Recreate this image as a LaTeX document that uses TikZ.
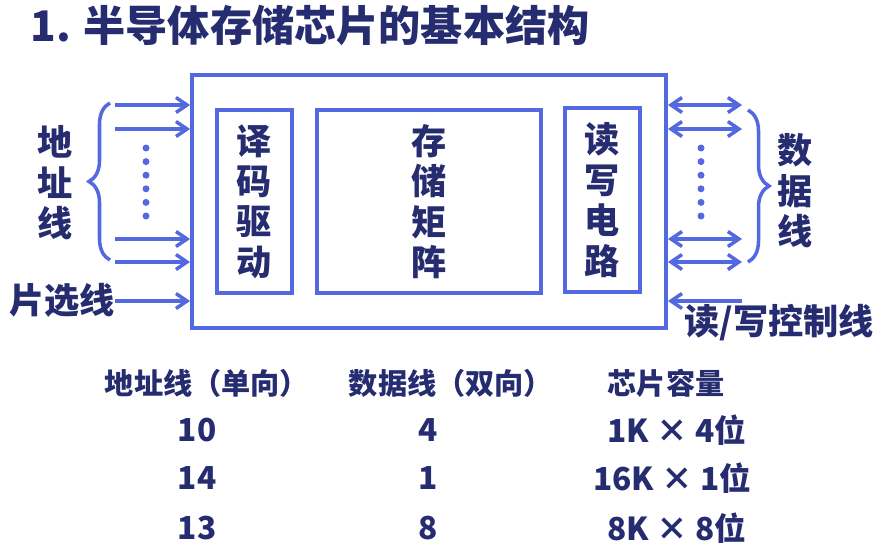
\documentclass[tikz,border=0pt]{standalone}
\usepackage{fontspec}
\setmainfont{Noto Sans CJK SC}
\usetikzlibrary{arrows.meta,positioning,decorations.pathreplacing}
\definecolor{chipblue}{HTML}{5468E0}
\definecolor{chipnavy}{HTML}{262C70}

\begin{document}
\begin{tikzpicture}[
    blk/.style={rectangle, draw=chipblue, line width=2.2pt, inner sep=0pt,
                align=center, text=chipnavy,
                font=\fontsize{20}{23}\selectfont\bfseries},
    lbl/.style={text=chipnavy, font=\fontsize{20}{23}\selectfont\bfseries,
                align=center, inner sep=0pt},
    thead/.style={text=chipnavy, font=\fontsize{16.6}{19}\selectfont\bfseries, inner sep=0pt},
    tcell/.style={text=chipnavy, font=\fontsize{18}{21}\selectfont\bfseries, inner sep=0pt},
    arr/.style={chipblue, line width=2pt, -{Straight Barb[length=2.2mm,width=3mm]}},
    dbl/.style={chipblue, line width=2pt,
                {Straight Barb[length=2.2mm,width=3mm]}-{Straight Barb[length=2.2mm,width=3mm]}},
    brc/.style={chipblue, line width=2pt, decorate, decoration={brace, amplitude=0.42cm}},
    dotcol/.style={chipblue, line width=0.14cm, line cap=round, dash pattern=on 0pt off 0.272cm}
  ]

  \useasboundingbox (0,0) rectangle (17.62,-11.14);

  % ---- Title ----
  \node[anchor=west, text=chipnavy, font=\fontsize{24}{28}\selectfont\bfseries, inner sep=0pt]
    (title) at (0.6,-0.5) {1.\hspace{0.3em}半导体存储芯片的基本结构};

  % ============ Chip ============
  \node[blk, minimum width=9.48cm, minimum height=5.06cm] (chip) at (8.58,-4.03) {};

  \node[blk, minimum width=1.5cm, minimum height=3.66cm] (dec) at (5.09,-4.03)
    {译\\码\\驱\\动};
  \node[blk, minimum width=4.48cm, minimum height=3.66cm] (mat) at (8.58,-4.03)
    {存\\储\\矩\\阵};
  \node[blk, minimum width=1.5cm, minimum height=3.68cm] (rw) at (12.05,-4.0)
    {读\\写\\电\\路};

  % ============ LEFT: address lines + chip select ============
  \coordinate (a1) at (2.3,-2.1);
  \coordinate (a2) at (2.3,-2.58);
  \coordinate (a3) at (2.3,-4.78);
  \coordinate (a4) at (2.3,-5.24);
  \coordinate (cs) at (2.3,-6.02);

  \draw[arr] (a1) -- (a1 -| chip.west);
  \draw[arr] (a2) -- (a2 -| chip.west);
  \draw[arr] (a3) -- (a3 -| chip.west);
  \draw[arr] (a4) -- (a4 -| chip.west);
  \draw[arr] (cs) -- (cs -| chip.west);

  \draw[dotcol] (2.92,-2.96) -- (2.92,-4.33);
  \draw[brc] (2.2,-5.2) -- (2.2,-2.06);

  \node[lbl] (addr) at (1.1,-3.66) {地\\址\\线};
  \node[lbl] (csl) at (1.24,-6.0) {片选线};

  % ============ RIGHT: data lines + read/write control ============
  \coordinate (d1) at (14.84,-2.1);
  \coordinate (d2) at (14.84,-2.58);
  \coordinate (d3) at (14.84,-4.78);
  \coordinate (d4) at (14.84,-5.24);
  \coordinate (rwc) at (14.84,-6.02);

  \draw[dbl] (d1 -| chip.east) -- (d1);
  \draw[dbl] (d2 -| chip.east) -- (d2);
  \draw[dbl] (d3 -| chip.east) -- (d3);
  \draw[dbl] (d4 -| chip.east) -- (d4);
  \draw[arr] (rwc) -- (rwc -| chip.east);

  \draw[dotcol] (14.02,-2.96) -- (14.02,-4.33);
  \draw[brc] (14.96,-2.2) -- (14.96,-5.24);

  \node[lbl] (data) at (15.9,-3.82) {数\\据\\线};
  \node[lbl] (rwl) at (15.58,-6.46) {读/写控制线};

  % ============ Table ============
  \node[thead] (h1) at (4.14,-7.66) {地址线（单向）};
  \node[thead] (h2) at (9.02,-7.66) {数据线（双向）};
  \node[thead] (h3) at (13.32,-7.66) {芯片容量};

  \node[tcell] (r1a) at (3.94,-8.6) {10};
  \node[tcell] (r1b) at (8.56,-8.6) {4};
  \node[tcell] (r1c) at (13.54,-8.6) {1K × 4位};

  \node[tcell] (r2a) at (3.94,-9.56) {14};
  \node[tcell] (r2b) at (8.56,-9.56) {1};
  \node[tcell] (r2c) at (13.44,-9.56) {16K × 1位};

  \node[tcell] (r3a) at (3.94,-10.56) {13};
  \node[tcell] (r3b) at (8.56,-10.56) {8};
  \node[tcell] (r3c) at (13.54,-10.56) {8K × 8位};

\end{tikzpicture}
\end{document}
